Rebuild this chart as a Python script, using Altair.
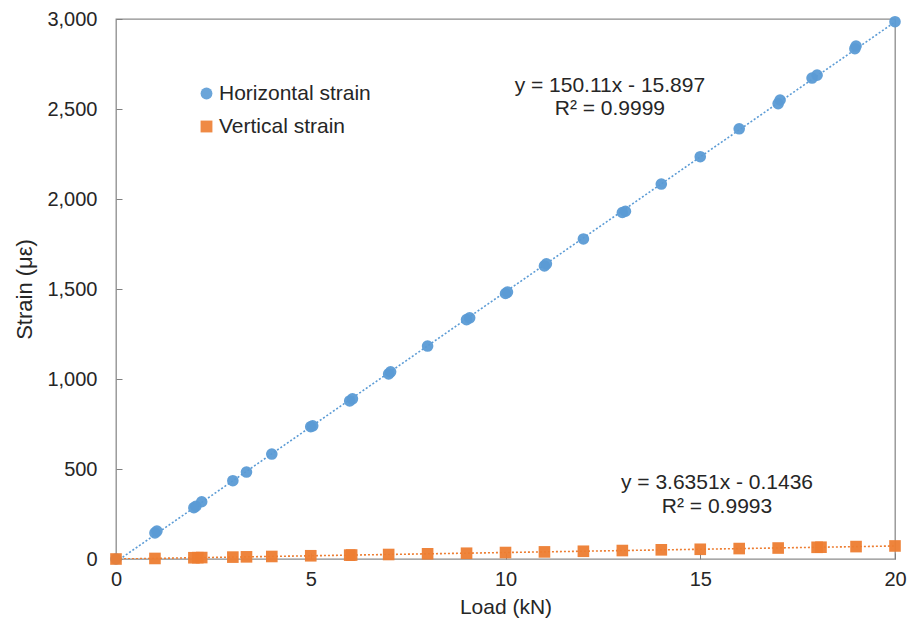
import altair as alt
import pandas as pd

# Horizontal strain (blue circles)
h_load = [0, 1.0, 1.05, 2.0, 2.05, 2.2, 3.0, 3.35, 4.0, 5.0, 5.05, 6.0, 6.07, 7.0, 7.05,
          8.0, 9.0, 9.08, 10.0, 10.05, 11.0, 11.05, 12.0, 13.0, 13.08, 14.0, 15.0, 16.0,
          17.0, 17.05, 17.87, 18.0, 18.97, 19.0, 20.0]
h_strain = [0, 145, 155, 285, 293, 318, 435, 483, 583, 735, 740, 878, 890, 1028, 1040,
            1183, 1330, 1340, 1475, 1483, 1628, 1640, 1778, 1925, 1932, 2083, 2235, 2390,
            2530, 2550, 2672, 2688, 2835, 2850, 2985]

# Vertical strain (orange squares)
v_load = [0, 1.0, 2.0, 2.1, 2.2, 3.0, 3.35, 4.0, 5.0, 6.0, 6.05, 7.0, 8.0, 9.0, 10.0,
          11.0, 12.0, 13.0, 14.0, 15.0, 16.0, 17.0, 18.0, 18.1, 19.0, 20.0]
v_strain = [0, 3, 7, 7.5, 8, 10.5, 12, 14, 18, 21.5, 22, 25, 29, 32, 36, 39.5, 43, 47,
            51, 54, 58, 61, 65, 65.5, 69, 72.5]

series_names = ["Horizontal strain", "Vertical strain"]
series_colors = ["#5B9BD5", "#ED7D31"]
series_shapes = ["circle", "square"]

eq_text = ["y = 150.11x - 15.897", "R² = 0.9999", "y = 3.6351x - 0.1436", "R² = 0.9993"]
eq_x = [12.68, 12.68, 15.43, 15.43]
eq_y = [2628, 2498, 422, 290]

x_ticks = [0, 5, 10, 15, 20]
y_ticks = [0, 500, 1000, 1500, 2000, 2500, 3000]

df = pd.concat([
    pd.DataFrame({"load": h_load, "strain": h_strain, "series": series_names[0]}),
    pd.DataFrame({"load": v_load, "strain": v_strain, "series": series_names[1]}),
], ignore_index=True)
df["order"] = range(len(df))

eq_df = pd.DataFrame({"text": eq_text, "x": eq_x, "y": eq_y})

FONT = "Liberation Sans"
TXT = "#262626"

x_scale = alt.Scale(domain=[0, 20], nice=False, zero=False)
y_scale = alt.Scale(domain=[0, 3000], nice=False)

x_enc = alt.X("load:Q", scale=x_scale,
              axis=alt.Axis(title="Load (kN)", values=x_ticks, offset=-6, domain=False,
                            grid=False, tickSize=6, tickColor="#808080", labelPadding=10,
                            titlePadding=7, labelFontSize=20, titleFontSize=21,
                            titleFontWeight="normal", labelColor=TXT, titleColor=TXT,
                            labelFont=FONT, titleFont=FONT, labelFlush=False,
                            labelOverlap=False))
y_enc = alt.Y("strain:Q", scale=y_scale,
              axis=alt.Axis(title="Strain (με)", values=y_ticks, format=",.0f", offset=-6,
                            domain=False, grid=False, tickSize=6, tickColor="#808080",
                            labelPadding=19, titlePadding=10, labelFontSize=20,
                            titleFontSize=22, titleFontWeight="normal", labelColor=TXT,
                            titleColor=TXT, labelFont=FONT, titleFont=FONT,
                            labelFlush=False, labelOverlap=False))

trend = alt.Chart(df).transform_regression(
    "load", "strain", groupby=["series"], extent=[0, 20]
).mark_line(strokeDash=[2, 2], strokeWidth=1.6, clip=True).encode(
    x=alt.X("load:Q", scale=x_scale),
    y=alt.Y("strain:Q", scale=y_scale),
    stroke=alt.Stroke("series:N", scale=alt.Scale(domain=series_names, range=series_colors),
                      legend=None),
)

legend = alt.Legend(title=None, orient="none", legendX=80, legendY=64,
                    labelFontSize=21, labelFont=FONT, labelColor=TXT,
                    symbolSize=140, rowPadding=11, labelOffset=2,
                    symbolStrokeWidth=0)

points = alt.Chart(df).mark_point(filled=True, opacity=0.95, strokeWidth=0).encode(
    x=x_enc,
    y=y_enc,
    fill=alt.Fill("series:N", scale=alt.Scale(domain=series_names, range=series_colors),
                  legend=legend),
    shape=alt.Shape("series:N", scale=alt.Scale(domain=series_names, range=series_shapes),
                    legend=legend),
    size=alt.value(135),
    order=alt.Order("order:Q"),
)

eqs = alt.Chart(eq_df).mark_text(fontSize=21, font=FONT, color=TXT, baseline="middle",
                                 align="center").encode(
    x=alt.X("x:Q", scale=x_scale),
    y=alt.Y("y:Q", scale=y_scale),
    text="text:N",
)

chart = alt.layer(trend, points, eqs).resolve_scale(
    stroke="independent"
).properties(
    width=779, height=540,
    autosize=alt.AutoSizeParams(type="none"),
    padding={"left": 116, "top": 19, "right": 17, "bottom": 76},
    background="white",
).configure_view(stroke="#8c8c8c", strokeWidth=1.3)

chart.save("out.html", embed_options={"renderer": "svg", "actions": False})
